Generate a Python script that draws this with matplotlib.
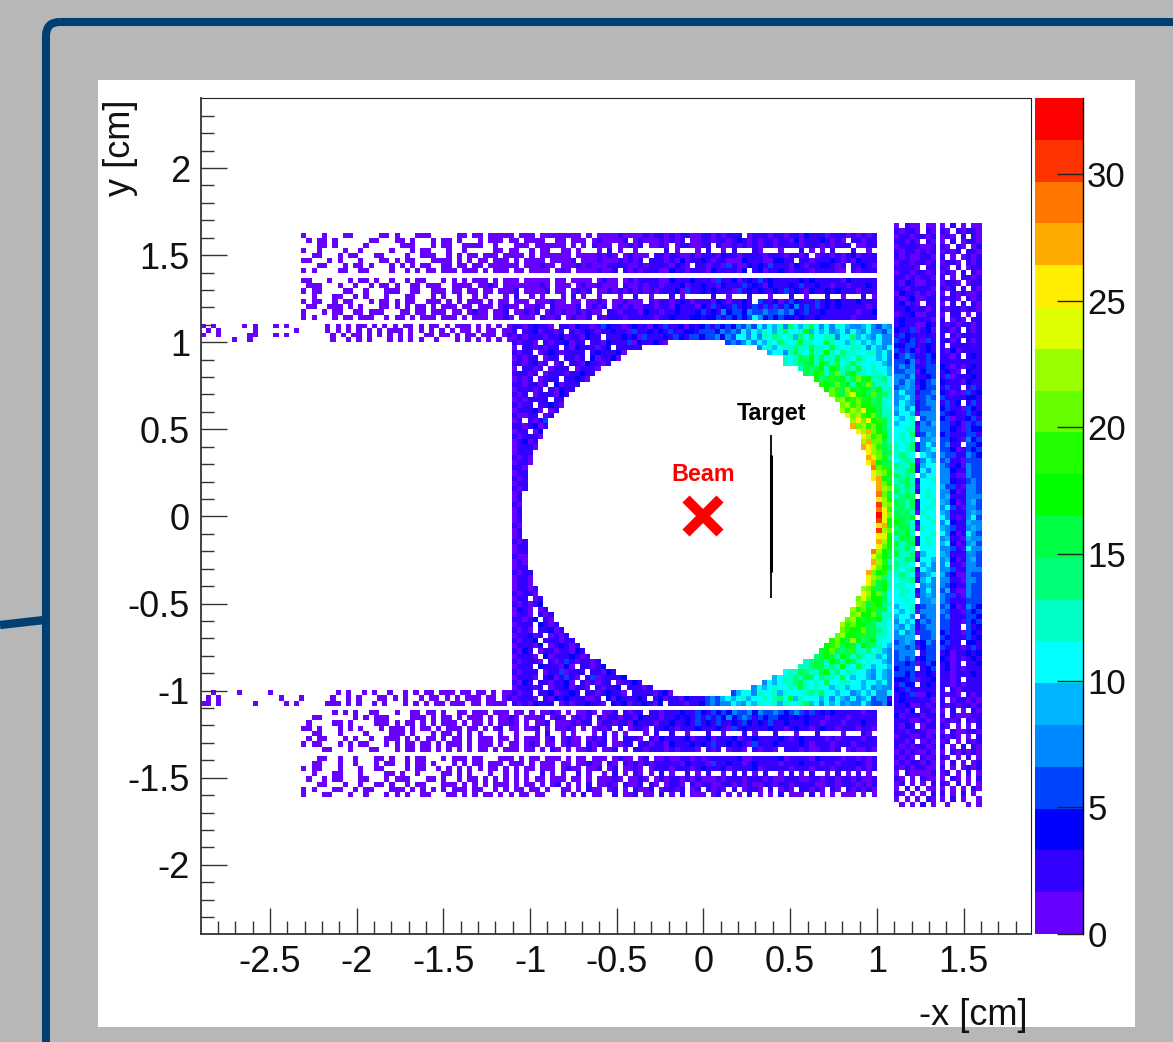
"""Beam spot map on the detector plane, drawn on a grey slide panel."""

from __future__ import annotations

import matplotlib

matplotlib.use("Agg")
import matplotlib.pyplot as plt
import numpy as np
from matplotlib.colors import ListedColormap, Normalize
from matplotlib.patches import FancyBboxPatch, Rectangle

plt.rcParams["font.family"] = ["Liberation Sans", "DejaVu Sans"]
plt.rcParams["axes.unicode_minus"] = False

# counts per cell, one base-36 character each (a=10 ... x=33), "." is an empty cell
# band rows are grouped in tens only to keep them readable
top_far_rows = [
    "1...1...11 .....11.1. ..111..... 11.11.1111 1.111.1111 1111.1.111 1211112122 1213211321 21322.1322 1321231422 3132213121 2",
    ".1.11.1... ...11...11 .1...1.11. 1...1.111. 11.1111..1 1.111.1211 112.121112 1213.11231 2213421312 3123141322 42131.2312 3",
    "...11.1... ..1......1 11...1.11. .1111..1.. .111.11111 1.1.1.2111 .11212.112 1.1321122. 3112131212 3122231223 121322.113 2",
    "1..1....1. .1.....1.. .1.11...1. .1.....11. 11..1.11.. 11.1...1.2 .1..1..... 2.1...1.2. .1.2...21. ..1...2.1. 1.3...2..1 .",
    "..11...1.1 1...11.... 1..111..1. 1.11.111.1 111.1.1111 11.1111212 1.12111.22 1231121232 1423122231 22213212.1 2312124123 3",
    "11...1.1.. .1...11.1. 11...1111. 1.1.11.111 .1.1111.11 112.111211 121212.322 1314122431 3211142321 14423.3312 2343131422 3",
    "...11...1. 11.1...1.1 .1.11..11. 11.11.1111 11.111211. 1112121112 2331121223 31421.2312 3152114243 5232143132 44312.2342 1",
    "1.1....11. .11....1.. 1.1.11.111 .111.1.111 .11.1111.1 21.1111211 2.21312231 1423122314 223214.341 2242122312 33211.3132 3",
]
top_near_rows = [
    "11...1...1 .11.1..1.. 1.11...1.1 .1.111.1.1 11.11111.1 1.1111.121 1.12122231 1422242331 5224134253 4322334243 2223142332 3",
    ".111...1.. 1..1.11.1. .11.111..1 111.1121.1 11111121.1 11.1211211 1.21121321 3224132423 1423352431 4232435324 2313212324 2",
    "1.11....11 ..1...111. .11..111.1 1.11.11.11 12.11112.1 1.1212.112 1212121313 2241523424 2331534243 2435243142 3434223122 3",
    "..1...11.. 1.1...1... 11...1.1.. 1..1.1...1 .2..1.1... 1.2.1..1.. .1..2..1.. .2.1.....3 ..1...2... 1...3..1.. .2..1...2. 1",
    "1.11..1.11 ...1.11.1. 11..111.1. 1.111.1.11 .111.11121 1.11.1121. 112111.212 3124213231 4213242.53 2413542325 2434232423 2",
    ".11..111.1 .1...11.1. 1.11.1.111 .11.111.12 11.1121.21 1112.1212. 1212113212 2143231425 3425342536 2536473625 3424322321 3",
    "1...1.11.. 11.111...1 1.11.111.1 1.1211.112 .11212.121 21131211.2 2132214231 2342234534 3745648658 5675743523 4232322132 4",
    "1.1...1.11 .111..1.11 .1.111.111 .1.111.112 1.111.2112 .12112.212 2213222313 2423344244 5354645a74 6454434234 3232231232 3",
]
left_top_rows = [
    "1.1.....1.1...1.1.......1.1.1.11.1.1.1.11.1.11.1.111.1.1.1.1",
    ".1.1......1.......1.....1.1.1.1.1.1.111.1.1.1.1.1.11.1.11.11",
    "1..1.....11...1.1........1.1.11.1.1.1.1.1..11.11.1.11.111.12",
    "......1..1...............1..1.1.1...1.1.1.1..1...1.1.1.1.1.1",
]
left_bottom_rows = [
    "..1....1.....1............1.1..1.1..1..1.1.11.111.11.11.1.11",
    ".1.1...........1...1.....1..1.1...11.1.1..1.11.1.1.111.11.12",
    "11.1......1.....1.1.....111.1.1..1.1...1.1.1.11.111.11.1111.",
]
# left of the hole | right of the hole
square_rows = [
    "23124321.32142312542313423142523414253|45364547695a8b9c8eb9dfa8a7ca9879a8697",
    "3.23412212.31242133423152342425324435|5647586a7b9ca9dgbach9a9b89a8a97a7869",
    "13123213241231423.322434152324354356|4657486ba7b8cbedac9ebgabdc8bae9a97a78",
    "21231.21324123.321423251432431|5867a8b9cbedacfcdabfcab9ca9b9a87",
    "1.2312132.214323124.32323|8ac9bdcedcfdcagcabdca8b97a",
    "2123.124213223.2423241|9ba8cfdbgcdhcbecdabdc9a8",
    "12132.122.3213.413241|dacfehcgdcfdcbecab9a8",
    "2312413.12.32142312|cbdegichfcjbdfcabca98",
    "1.2213.1232.12321|dfegidhfcedgcbcab9",
    "23212.1223132432|fehjdgkcfhdcbdca9",
    "1213.1232.32431|hegjfidgkfhdceb",
    "2312213.41322|jhgkfidhgkecdb",
    "122312.31423|hkjgmifhgeidc",
    "213.1232143|ljgkohigkfec",
    "1213233.22|kmhjlgiefdb",
    "3122.23421|lnjkhigfdb",
    "122341.13|mjnkqihfdc",
    "21132.12|pkmjhkgdc",
    "12.3125|mqkohjgd",
    "2313412|rlnjkhgd",
    "132.14|pmrkhfd",
    "213231|qnjlhd",
    "12413|nrlkfd",
    "12231|rpmjge",
    "1323|qmkgf",
    "2131|spkjd",
    "1221|prigf",
    "231|tljg",
    "122|pmki",
    "213|qrhf",
    "132|ski",
    "213|rnk",
    "12|tkg",
    "13|qmi",
    "21|vnk",
    "12|tpj",
    "12|xql",
    "12|uoi",
    "21|qrh",
    "13|vmk",
    "12|poh",
    "212|rmh",
    "123|qli",
    "132|tnif",
    "211|okhf",
    "131|rmjd",
    "122|qkhg",
    "2132|slhjc",
    "1321|omkec",
    "1231|pkgid",
    "13212|nljfhc",
    "21331|qmhkea",
    "132.12|lokihfb",
    "213124|nkgjhec",
    "1421.12|mjkhjgfb",
    "1231.213|lnihkgdc",
    "23134.21|kmhgifhdb",
    "1323.4213|mjkhigfdca",
    "2131.23412|ljihkgfedb",
    "132413.1312|kmhifjgfdcb",
    "21324.232132|jkhgmiefhcba",
    "132314.134213|hjkgifdhfecb9",
    "2143.123132142|ghkfegjdcebc98",
    "13231.413234213|efhgdifcedbc9a8",
    "213231.2135213212|degfcifdhfcbdab98",
    "1323.4232141.23134|cdefgcedhcbfda9ab9",
    "21332.13251232.32143|bcdfecdfhcebdcab98a97",
    "13231.2413521.25132234|9bcdecfgbecdbfa9ba98a97",
    "2143.2313241.212132.13243|7a9bcdegcbdbfabcdab9ba9a8",
    "132312.13241321.21324.32312|7a9bcabdcfcbdab9ca9ab9a8978",
    "2133.23413243.32134321.23231241|69ba8cabc9cbabdecgab9ba89a9a87a",
    "13231.21434232113.41432342.24132142231|6869a9bc9abdacebg9cbab9a8a98a79a6873",
    "21314232.131224321.4241324214.23213241|57687a98b9cabc9dabcf9a8b9a8978a76574",
]
bottom_near_rows = [
    "......1.1. 1..11...1. .11.11.1.. 11.111.111 .11.1.1121 .1.1121.11 2.2132.221 3324235435 4647567475 6864575353 4342323212 3",
    "..11...... 1.1.111... .111.1.11. 1.111.1.11 21.1112.12 1.1213.212 2132142231 3243425353 6474686364 6544243423 2122312323 2",
    ".1....11.1 ....111.1. 11.1.1.111 .1.11.1.11 21.1.112.1 112132.122 1321422313 2423435243 5324254342 5234232423 1223123243 2",
    "11.1...1.1 .1...1.111 .1.11.1.11 1.11.1.12. 11.112.1.1 121.1.1213 .2.1321.22 4213324232 4315242323 4231242312 4231223122 1",
    "..11...1.. ..1....111 .1...1.11. 1.1.1...1. .1...1.2.. 1.1...1.2. 1.1...1.3. .2..1...3. .1...2.1.. .3...1...2 ....1...21 .",
    ".1.11...1. 1..1..111. 1.1.11.1.1 1.1.111.11 .1.111.12. 1211.1213. 1.2231.314 2332413241 3324132423 3242134232 3121322312 3",
    "1.11...1.1 .11...1.1. 11.11.1.11 1.1.111.1. 11.121.11. 1211.2122. 1132.22133 1422342425 3342431523 2423234213 2312231222 3",
    "...11...1. ..11...1.1 1.11.1.1.1 .1.11.1.11 1.11.1.21 .1.1121.11 2.1.221322 1213221.31 2.1221.312 21.2231211 2212.12112 1",
]
bottom_far_rows = [
    "...11..1.. 1...11.1.. 1.11...1.1 11.11...11 1.1.11.111 .1.11.111. 1211.12.11 2112213132 2332411332 2241322314 2232132131 3",
    "..11...1.. 1...1.11.. 1.11.1...1 .1.11.111. 111.1.111. 11.11211.2 1.21213123 2231422315 3242312432 2312324223 1231232421 2",
    "1.11...1.. .1..11.... 1.11..1.1. 1.1.1.11.1 .1.11.111. 1211.112.1 2.1121.122 3132213422 2413232413 3222132312 2312232131 2",
    "..1...11.. .1....11.1 ..1....11. 1.1...1..1 .1.1..2.1. 1..2.1..1. 2.1.21.1.2 .1..3.1.2. .1.3.2.1.2 ..1.3.1.2. .1.2.1.2.1 .",
    ".1..1.11.. .11...1.11 1...11.1.. 1.11.1.1.1 .1.1.11.11 1.11.1.111 21.1121.12 1221312111 2132212321 2113221123 1221231211 2",
    "...11...1. .1..11.1.. 1.11...111 .1.1.1.111 .1.11.1.12 .1.1.2.112 1.2112.21. 1231.21231 1221213112 2123122321 1231223121 2",
    "1.1...11.. 1.11...111 .1.1.1.1.1 11.11..1.1 .11.11.1.. 11.1.211.1 2.1.2112.1 2312.12.21 31.2.1221. 2.121.2312 1.21.21312 1",
    "1...11...1 ..1...1.1. 1..11...11 .1.1.11.1. 1.11.11... 1.1.2.11.. 2.112.11.2 .1.2.111.1 2.1.1.2.1. 1.2.111.2. 1.1.111.1. 1",
]
side_rows = [
    "1.211.11 1.2.1.11", "21221.21 21.21221", "12312212 121.2.21", "22131.21 1.2.1231",
    "13222112 21.21.12", "21321212 1212.321", "21311221 2.1.1212", "12312212 1221.212",
    "22321.32 21.2.132", "13212212 121.2.21", "23131231 2.1.3212", "31421132 1221.122",
    "23132221 212.2.31", "14321312 1.212112", "31241123 2121.213", "24131.32 1.2.2.21",
    "32432213 21221321", "13241132 1.32.1.3", "34232231 2.131.22", "24321142 21212312",
    "43351241 3212.213", "35432232 2.312322", "53463152 3212.313", "44652243 2.322232",
    "63541243 31412323", "45762354 2313.242", "56471253 32322332", "67583355 43121343",
    "56781465 3421.423", "78692346 25132342", "86973467 43221433", "67981456 3523.352",
    "7a872567 43121534", "89a81576 53322443", "7a982687 3524.353", "9a8b2568 45221543",
    "8ba91778 53423534", "a9bc.687 45132453", "9bac2869 56341635", "bacd1788 56431544",
    "acbe2697 46232653", "bdac.889 65421745", "cbde37a8 5723.654", "dbce289a 65413645",
    "cedb.a98 76522754", "bdec18a9 68321656", "ecdf29ab 76341765", "dcef3a8a 87432756",
    "fdec.9ba 78211865", "cefd2abc 87422676", "edfc1bab 96531875", "fced2acb 88413786",
    "defe.bca 79322877", "fedg3abc 98412796", "egdf2bcb 8a521886", "gefd1cab 97322897",
    "fgeh.bca a83127a6", "hfed2abc 8a423988", "egfd1cbb 98522897", "fehd.bac a7413a86",
    "dgfe3acb 89321987", "fdeg2bca 9a412896", "edfc.abb 88521a77", "fcde19ba 97322886",
    "cdfe2ab9 89413796", "ecdb.9a8 7a321876", "dbce3a98 87522787", "cedb189a 96411865",
    "bcde29a8 78321776", "dcba.798 86432856", "acdb28a8 69211766", "bcab1798 76521855",
    "abcb.789 85322665", "9bac2687 67413754", "a9bc1878 75221645", "9ab8.678 57322654",
    "8a9b3768 65221545", "98a92587 5632.534", "7a891668 45221643", "8799.567 54222534",
    "68972476 4523.443", "78681465 53221353", "6778.356 34122434", "57672455 43121343",
    "66461354 3412.334", "4565.345 24131322", "55462243 32122242", "44351334 2312.323",
    "3544.243 32121232", "43532232 2.312322", "34351142 3121.213", "24232231 2.122131",
    "32411312 21212212", "2314.221 1.2.1.21", "41322132 2.211123", "32311213 1212.212",
    "2143.122 21.1.1.2", "32122311 1.211221", "13211212 2121.1.2", "2312.131 12.1.212",
    "31212212 2.1.2.21", "12131121 1.212121", "2121.212 21.1.2.1", "13122121 1.2.1.12",
    "21212211 2.1.1212", "1.211112 12.1.2.1", "21.1.211 1.21.1.2", "12.1.1.2 21.2.1.1",
    "1.2.2.11 1.1.1.21", "21.1.1.2 2.1.2.1.", "1.1.1.21 1.2.1..1", ".1.1.2.1 .1...1.1",
]

# ROOT rainbow palette, twenty steps from 0 to 33
palette_colors = [
    "#6600ff", "#3300ff", "#0000ff", "#0044ff", "#0088ff", "#00b4ff", "#00ffff", "#00ffc4", "#00ff77", "#00ff44",
    "#00ff00", "#22ff00", "#66ff00", "#99ff00", "#ddff00", "#ffee00", "#ffaa00", "#ff7700", "#ff3300", "#ff0000",
]
color_ticks = [0, 5, 10, 15, 20, 25, 30]
count_max = 33

x_ticks = [-2.5, -2, -1.5, -1, -0.5, 0, 0.5, 1, 1.5]
x_tick_labels = ["-2.5", "-2", "-1.5", "-1", "-0.5", "0", "0.5", "1", "1.5"]
y_ticks = [-2, -1.5, -1, -0.5, 0, 0.5, 1, 1.5, 2]
y_tick_labels = ["-2", "-1.5", "-1", "-0.5", "0", "0.5", "1", "1.5", "2"]

target_x = [0.39, 0.39]
target_y_full = [-0.47, 0.47]
target_y_core = [-0.32, 0.35]
beam_x = [0.0]
beam_y = [0.0]

fig = plt.figure(figsize=(11.73, 10.42), dpi=100, facecolor="#b7b7b7")

# slide background, in pixel coordinates of the picture
bg = fig.add_axes([0, 0, 1, 1])
bg.set_xlim(0, 1173)
bg.set_ylim(1042, 0)
bg.axis("off")
bg.add_patch(
    FancyBboxPatch((46, 22), 1400, 1200, boxstyle="round,pad=0,rounding_size=14", fc="none", ec="#003f72", lw=5.8)
)
bg.plot([0, 44], [625, 620], color="#003f72", lw=6, solid_capstyle="butt")
panel = Rectangle((98, 80), 1037, 947, fc="white", ec="none", zorder=3)
bg.add_patch(panel)

xlabel = bg.text(1028, 1025, "-x [cm]", ha="right", va="baseline", fontsize=26, color="#111111", zorder=4)
xlabel.set_clip_path(panel)
bg.text(120, 99, "y [cm]", ha="center", va="top", rotation=90, fontsize=26, color="#111111", zorder=4)

ax = fig.add_axes([201 / 1173, 1 - 934 / 1042, 830 / 1173, 836 / 1042], facecolor="white")
ax.set_xlim(-2.898, 1.889)
ax.set_ylim(-2.397, 2.402)

cmap = ListedColormap(palette_colors)
norm = Normalize(0, count_max)


def parse_counts(rows: list[str], n_cols: int) -> np.ndarray:
    """Turn rows of base-36 characters into a masked count table."""
    table = np.full((len(rows), n_cols), np.nan)
    for i, row in enumerate(rows):
        for j, char in enumerate(row[:n_cols]):
            if char not in ". ":
                table[i, j] = int(char, 36)
    return np.ma.masked_invalid(table)


def draw_block(table: np.ndarray, x_range: tuple[float, float], y_range: tuple[float, float]):
    """Draw one detector block, row 0 on top."""
    x_edges = np.linspace(x_range[0], x_range[1], table.shape[1] + 1)
    y_edges = np.linspace(y_range[0], y_range[1], table.shape[0] + 1)
    return ax.pcolormesh(x_edges, y_edges, table, cmap=cmap, norm=norm, linewidth=0, antialiased=False, zorder=1)


def right_aligned(rows: list[str], n_cols: int) -> list[str]:
    return [row.replace(" ", "").rjust(n_cols)[-n_cols:] for row in rows]


def split_square(rows: list[str], n_cols: int) -> list[str]:
    """Square rows are stored as left|right of the hole."""
    out = []
    for row in rows:
        left, right = row.split("|")
        out.append((left + " " * n_cols)[: n_cols - len(right)] + right)
    return out


band_cols = 111
mesh = draw_block(parse_counts(right_aligned(top_far_rows, band_cols), band_cols), (-2.32, 1.0), (1.625, 1.395))
draw_block(parse_counts(right_aligned(top_near_rows, band_cols), band_cols), (-2.32, 1.0), (1.37, 1.128))
draw_block(parse_counts(right_aligned(bottom_near_rows, band_cols), band_cols), (-2.32, 1.0), (-1.111, -1.351))
draw_block(parse_counts(right_aligned(bottom_far_rows, band_cols), band_cols), (-2.32, 1.0), (-1.375, -1.61))
draw_block(parse_counts(left_top_rows, 60), (-2.9, -1.104), (1.105, 1.003))
draw_block(parse_counts(left_bottom_rows, 60), (-2.9, -1.104), (-0.997, -1.088))
draw_block(parse_counts(split_square(square_rows, 73), 73), (-1.104, 1.087), (1.105, -1.088))
draw_block(parse_counts([row.split(" ")[0] for row in side_rows], 8), (1.10, 1.341), (1.684, -1.667))
draw_block(parse_counts([row.split(" ")[-1] for row in side_rows], 8), (1.364, 1.604), (1.684, -1.667))

# target and beam overlays
ax.plot(target_x, target_y_full, color="black", lw=1.3, solid_capstyle="butt", zorder=2)
ax.plot(target_x, target_y_core, color="black", lw=2.2, solid_capstyle="butt", zorder=2)
ax.plot(beam_x, beam_y, marker="x", ms=24, mew=7.2, color="red", ls="none", zorder=2)
ax.text(0.39, 0.59, "Target", color="black", fontweight="bold", fontsize=16.8, ha="center", va="center")
ax.text(0.0, 0.24, "Beam", color="red", fontweight="bold", fontsize=16.8, ha="center", va="center")

ax.set_xticks(x_ticks, x_tick_labels)
ax.set_yticks(y_ticks, y_tick_labels)
ax.set_xticks(np.arange(-28, 19) / 10, minor=True)
ax.set_yticks(np.arange(-23, 24) / 10, minor=True)
ax.tick_params(axis="both", which="major", direction="in", length=18.5, width=1.0, color="#333333", labelsize=26, labelcolor="#111111")
ax.tick_params(axis="both", which="minor", direction="in", length=9.5, width=1.0, color="#333333")
ax.tick_params(axis="x", which="major", pad=8)
ax.tick_params(axis="y", which="major", pad=8)
for side in ("left", "bottom"):
    ax.spines[side].set_linewidth(1.3)
    ax.spines[side].set_color("#333333")
for side in ("top", "right"):
    ax.spines[side].set_linewidth(0.8)
    ax.spines[side].set_color("#222222")

cax = fig.add_axes([1035 / 1173, 1 - 934 / 1042, 48 / 1173, 836 / 1042])
colorbar = fig.colorbar(mesh, cax=cax, ticks=color_ticks)
colorbar.outline.set_visible(False)
cax.spines["right"].set_visible(True)
cax.spines["right"].set_linewidth(1.0)
cax.tick_params(axis="y", direction="in", length=18.5, width=1.0, color="#222222", labelsize=25, labelcolor="#111111", pad=3)

fig.savefig("out.png", dpi=100, facecolor=fig.get_facecolor())
plt.close(fig)
